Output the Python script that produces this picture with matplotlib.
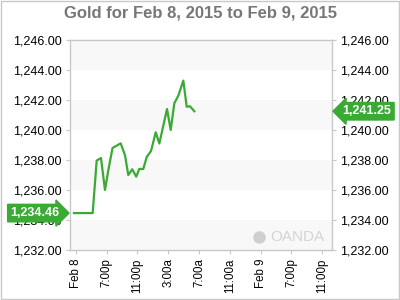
import matplotlib
matplotlib.use('Agg')
from matplotlib import pyplot as plt
from matplotlib.patches import Rectangle
import matplotlib.transforms as mtransforms

plt.rcParams['font.family'] = ['Liberation Sans', 'DejaVu Sans']

# hours from the "Feb 8" tick
hours = [-0.26, 2.17, 2.69, 3.25, 3.77, 4.2, 4.75, 5.81, 6.37, 6.8, 7.32,
         7.84, 8.23, 8.75, 9.2, 9.76, 10.37, 10.84, 11.84, 12.32, 12.79,
         13.31, 13.96, 14.4, 14.83, 15.39]
prices = [1234.46, 1234.46, 1237.96, 1238.13, 1236.0, 1237.3, 1238.8,
          1239.11, 1238.33, 1237.0, 1237.38, 1236.89, 1237.4, 1237.4,
          1238.2, 1238.6, 1239.85, 1239.1, 1241.4, 1240.0, 1241.78,
          1242.29, 1243.29, 1241.55, 1241.58, 1241.25]

tick_hours = [0, 4, 8, 12, 16, 20, 24, 28, 32]
tick_labels = ['Feb 8', '7:00p', '11:00p', '3:00a', '7:00a', '11:00a',
               'Feb 9', '7:00p', '11:00p']
y_ticks = [1232, 1234, 1236, 1238, 1240, 1242, 1244, 1246]
open_price = 1234.46
last_price = 1241.25

green = '#3aaa35'
grid_gray = '#c8c8c8'

fig = plt.figure(figsize=(4, 3), dpi=100)
ax = fig.add_axes([0.175, 0.1667, 0.655, 0.70])

# alternating bands
for lo in [1232, 1236, 1240, 1244]:
    ax.axhspan(lo, lo + 2, color='#f8f8f8', zorder=0, lw=0)

ax.plot(hours, prices, color=green, linewidth=1.6, zorder=3)

ax.set_xlim(-0.78, 33.3)
ax.set_ylim(1232, 1246)
ax.set_xticks(tick_hours)
ax.set_xticklabels(tick_labels, rotation=90, fontsize=8.3)
ax.set_yticks(y_ticks)
ax.set_yticklabels(['{:,.2f}'.format(v) for v in y_ticks], fontsize=9)
ax.tick_params(axis='y', which='both', left=True, right=True,
               labelleft=True, labelright=True, length=3, color=grid_gray,
               pad=3)
ax.tick_params(axis='x', length=3, color=grid_gray, pad=3)
for s in ax.spines.values():
    s.set_color(grid_gray)
    s.set_linewidth(1)

fig.suptitle('Gold for Feb 8, 2015 to Feb 9, 2015', x=0.5, y=0.98,
             fontsize=12, fontweight='bold', color='#777777')

# price flags
trans = mtransforms.blended_transform_factory(ax.transAxes, ax.transData)
ax.text(-0.04, open_price, '{:,.2f}'.format(open_price), transform=trans,
        ha='right', va='center', fontsize=9, fontweight='bold', color='white',
        bbox=dict(boxstyle='rarrow,pad=0.22', fc=green, ec=green), zorder=5,
        clip_on=False)
ax.text(1.04, last_price, '{:,.2f}'.format(last_price), transform=trans,
        ha='left', va='center', fontsize=9, fontweight='bold', color='white',
        bbox=dict(boxstyle='larrow,pad=0.22', fc=green, ec=green), zorder=5,
        clip_on=False)

# watermark
ax.text(0.97, 0.06, 'OANDA', transform=ax.transAxes, ha='right',
        va='center', fontsize=11, color='#d4d4d4', zorder=1)
ax.plot([0.72], [0.06], marker='o', markersize=8, color='#cfcfcf',
        transform=ax.transAxes, zorder=1)

fig.patches.append(Rectangle((0.003, 0.003), 0.994, 0.994,
                             transform=fig.transFigure, fill=False,
                             ec='#c8c8c8', lw=1))

fig.savefig('out.png', dpi=100)
